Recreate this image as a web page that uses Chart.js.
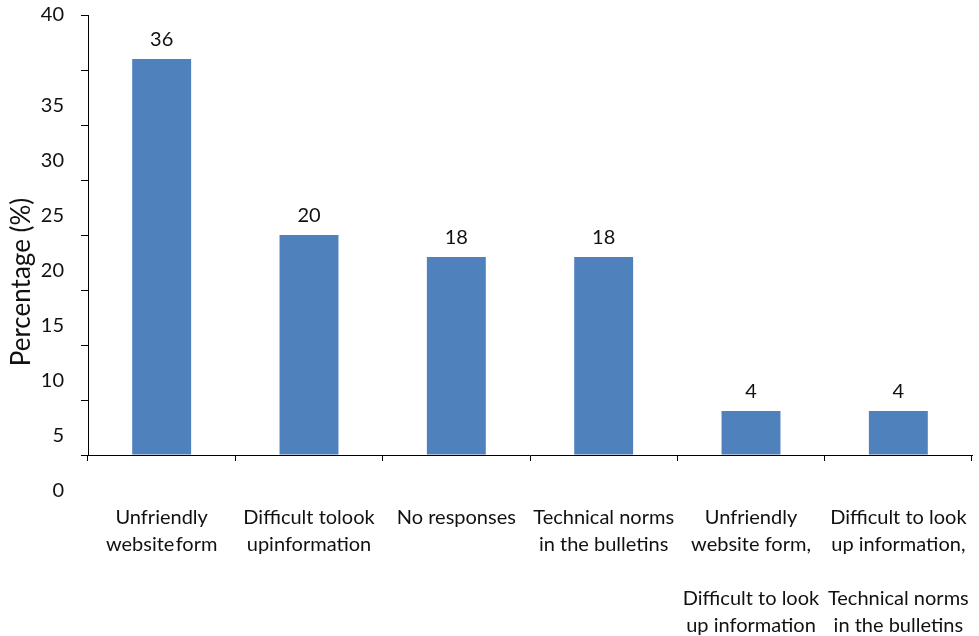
<!DOCTYPE html>
<html>
<head>
<meta charset="utf-8">
<script src="https://cdn.jsdelivr.net/npm/chart.js@4"></script>
<style>
  html, body { margin: 0; padding: 0; background: #fff; overflow: hidden; }
  canvas { display: block; }
</style>
</head>
<body>
<canvas id="myChart" width="979" height="636"></canvas>
<script>
const categories = [
  ["Unfriendly", "website\u200aform"],
  ["Difficult tolook", "upinformation"],
  ["No responses"],
  ["Technical norms", "in the bulletins"],
  ["Unfriendly", "website form,", "", "Difficult to look", "up information"],
  ["Difficult to look", "up information,", "", "Technical norms", "in the bulletins"]
];
const percentages = [36, 20, 18, 18, 4, 4];
const yTicks = [0, 5, 10, 15, 20, 25, 30, 35, 40];

const FONT = "Lato, 'Open Sans', sans-serif";
const TEXT = "#111";

// value labels above bars, the top "40" tick and the rotated axis title
const extraText = {
  id: 'extraText',
  afterDraw(chart) {
    const ctx = chart.ctx;
    const yScale = chart.scales.y;
    ctx.save();
    ctx.fillStyle = TEXT;
    ctx.font = "20px " + FONT;
    ctx.textAlign = 'center';
    ctx.textBaseline = 'middle';
    chart.getDatasetMeta(0).data.forEach((bar, i) => {
      ctx.fillText(percentages[i], bar.x, bar.y - 19);
    });

    ctx.textAlign = 'right';
    const top = yTicks[yTicks.length - 1];
    ctx.fillText(String(top), yScale.right - 24, yScale.getPixelForValue(top));

    ctx.font = "26px " + FONT;
    ctx.textAlign = 'center';
    ctx.translate(22, 282);
    ctx.rotate(-Math.PI / 2);
    ctx.fillText('Percentage (%)', 0, 0);
    ctx.restore();
  }
};

let myChart = new Chart(document.getElementById('myChart').getContext('2d'), {
  type: 'bar',
  data: {
    labels: categories,
    datasets: [{
      data: percentages,
      backgroundColor: '#4F81BD',
      categoryPercentage: 1,
      barPercentage: 0.4
    }]
  },
  options: {
    responsive: false,
    animation: false,
    layout: { padding: { top: 15, right: 7, left: 0, bottom: 0 } },
    plugins: {
      legend: { display: false },
      tooltip: { enabled: false }
    },
    scales: {
      x: {
        afterFit: s => { s.height = 181; s.paddingLeft = 0; s.paddingRight = 0; },
        grid: { offset: true, drawOnChartArea: false, tickLength: 6, color: '#000' },
        border: { color: '#000', width: 1 },
        ticks: {
          color: TEXT,
          padding: 43,
          maxRotation: 0,
          autoSkip: false,
          font: { family: FONT, size: 20, lineHeight: '27px' }
        }
      },
      y: {
        min: 0,
        max: 40,
        afterFit: s => { s.width = 88; s.paddingTop = 0; s.paddingBottom = 0; },
        afterBuildTicks: s => { s.ticks = yTicks.map(v => ({ value: v })); },
        grid: { drawOnChartArea: false, tickLength: 7, color: '#000' },
        border: { color: '#000', width: 1 },
        ticks: {
          color: TEXT,
          padding: 17,
          labelOffset: 36,
          font: { family: FONT, size: 20 },
          callback: v => (v === 40 ? '' : v)
        }
      }
    }
  },
  plugins: [extraText]
});
</script>
</body>
</html>
